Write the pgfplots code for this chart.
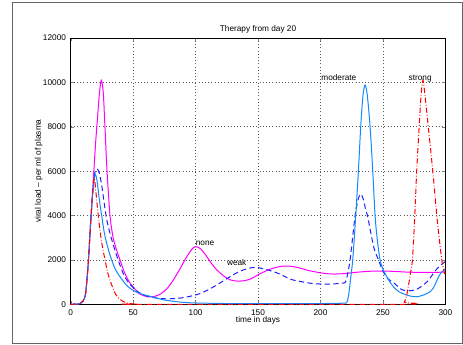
\documentclass[border=0pt]{standalone}
\usepackage{fontspec}
\setmainfont{Liberation Sans}
\usepackage{pgfplots}
\pgfplotsset{compat=1.18}
\definecolor{cnone}{RGB}{255,0,255}
\definecolor{cweak}{RGB}{30,30,255}
\definecolor{cmod}{RGB}{20,135,255}
\definecolor{cstrong}{RGB}{255,0,0}
\begin{document}
\begin{tikzpicture}
\useasboundingbox (-53pt,-30.5pt) rectangle (294.2pt,228.2pt);
\draw[gray!80!black, line width=0.8pt] (-43.5pt,-29.4pt) rectangle (293.5pt,226pt);
\begin{axis}[
  at={(0,0)}, anchor=south west,
  scale only axis, width=281pt, height=199.7pt,
  font=\fontsize{6.2}{7}\selectfont,
  /pgf/number format/assume math mode=true,
  xmin=0, xmax=300, ymin=0, ymax=12000,
  xtick={0,50,...,300}, ytick={0,2000,...,12000},
  scaled y ticks=false,
  yticklabel style={/pgf/number format/.cd, fixed, 1000 sep={}},
  xticklabel style={yshift=-0.5pt},
  tick align=inside, tick pos=both, major tick length=2.5pt,
  grid=major, grid style={black!65, dash pattern=on 0.6pt off 1.8pt, line width=0.5pt},
  axis line style={black, line width=0.7pt},
  xlabel={time in days},
  xlabel style={at={(axis description cs:0.5,-0.0616)}, anchor=center, inner sep=0pt},
  ylabel={viral load -- per ml of plasma},
  ylabel style={at={(axis description cs:-0.0854,0.5)}, anchor=center, inner sep=0pt},
  every axis plot/.append style={line width=0.75pt},
  clip mode=individual,
]
% none
\addplot[cnone, smooth] coordinates {
(0,0)(5,10)(8,50)(10,150)(12,500)(14,1800)(16,3700)(18,5500)(20,7300)(21.5,8400)(23,9500)(24.5,10100)(26,9600)(27.2,8300)(29,6100)(31.5,4000)(34,3000)(37,2400)(39.5,2000)(43,1450)(47,1000)(51,720)(55,480)(60,360)(64,330)(68,370)(72,470)(77,700)(82,1080)(87,1550)(93,2150)(97,2480)(100,2600)(104,2500)(109,2150)(113,1820)(117,1550)(122,1300)(127,1120)(131,1060)(136,1045)(141,1090)(145,1170)(150,1330)(155,1470)(160,1590)(165,1670)(170,1720)(175,1720)(180,1680)(185,1610)(190,1530)(195,1470)(200,1420)(205,1380)(210,1365)(215,1370)(220,1390)(230,1450)(240,1490)(250,1500)(260,1480)(270,1450)(280,1440)(290,1440)(300,1450)
};
% weak
\addplot[cweak, smooth, dash pattern=on 4pt off 2.5pt] coordinates {
(0,0)(5,10)(8,50)(10,150)(12,500)(14,1800)(16,3700)(18,5300)(19.5,5950)(21.3,6100)(23,5900)(25,5300)(28.3,4000)(31,3300)(34,2700)(38,2000)(42,1400)(46,1000)(51,700)(55,520)(60,390)(65,320)(72,260)(80,250)(90,300)(100,420)(105,520)(110,650)(117,870)(122,1050)(127.5,1240)(133,1420)(138,1545)(143,1630)(148,1665)(153,1620)(158,1550)(163,1460)(168,1350)(176,1130)(182,1050)(189,975)(195,930)(200,915)(206,905)(211,920)(216,950)(219.7,980)(221.5,1300)(223.7,2000)(225.7,3000)(227.7,4000)(230,4700)(232.2,4970)(234.5,4700)(236,4300)(237.6,4000)(240,3300)(243,2500)(246.4,2000)(250,1500)(254,1150)(258,1000)(262,800)(265,660)(270,610)(276,650)(282.4,870)(286,1050)(290.5,1400)(294,1650)(297,1800)(300,1930)
};
% moderate
\addplot[cmod, smooth] coordinates {
(0,0)(5,10)(8,50)(10,150)(12,500)(14,1800)(16,3700)(18,5200)(19.5,5840)(21,5600)(23,4700)(24.8,4000)(27,3200)(30,2500)(32.8,2000)(36,1550)(40,1200)(46,790)(52,570)(58,440)(65,340)(72,230)(80,150)(90,90)(100,60)(125,35)(150,30)(200,35)(218,50)(221,80)(222.5,400)(224,1100)(225.8,2000)(228,3800)(230.4,6050)(232.2,8000)(234,9400)(235.7,9880)(237.5,9400)(239.7,8000)(241.8,6050)(243.7,4000)(245.5,2900)(247.7,2000)(250.3,1550)(254,1150)(258.4,790)(263,560)(269,420)(273,360)(277,340)(282,410)(287.8,570)(291,800)(294.5,1240)(297,1450)(300,1600)
};
% strong
\addplot[cstrong, smooth, dash pattern=on 4pt off 1.5pt on 0.6pt off 1.5pt] coordinates {
(0,0)(5,10)(8,50)(10,150)(12,500)(14,1800)(16,3600)(17.5,5000)(18.9,5700)(20.3,5000)(22.1,4000)(24.5,2900)(27.5,2000)(30,1350)(33,850)(36,450)(38,300)(41,160)(45,60)(50,20)(55,0)(265,0)(267,100)(268.5,300)(270,700)(272,1400)(273.6,2000)(275.5,4000)(277,5980)(279,8000)(280.5,9400)(282,10100)(283.5,9500)(286.3,8000)(289.9,6000)(293.1,4000)(295,3000)(297.1,2000)(298.5,1600)(300,1250)
};
\node[anchor=base west, inner sep=0pt] at (axis cs:100,2660) {none};
\node[anchor=base west, inner sep=0pt] at (axis cs:125,1770) {weak};
\node[anchor=base west, inner sep=0pt] at (axis cs:200.5,10080) {moderate};
\node[anchor=base west, inner sep=0pt] at (axis cs:270.4,10080) {strong};
\node[anchor=center, inner sep=0pt] at (rel axis cs:0.5,1.034) {Therapy from day 20};
\end{axis}
\end{tikzpicture}
\end{document}
